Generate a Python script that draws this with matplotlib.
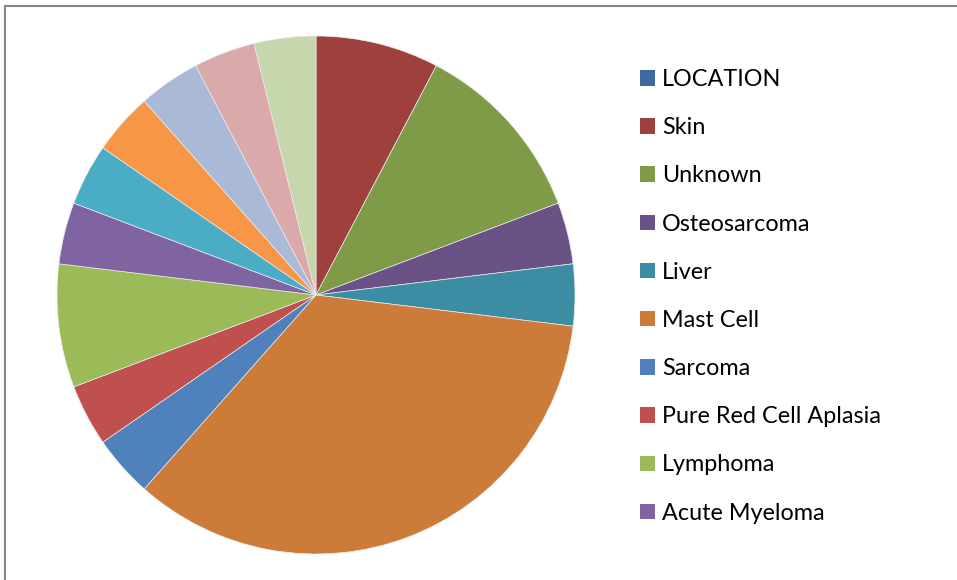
import matplotlib.pyplot as plt
from matplotlib.patches import Rectangle

# categories in series order (only the first 10 appear in the legend)
labels = ['LOCATION', 'Skin', 'Unknown', 'Osteosarcoma', 'Liver', 'Mast Cell',
          'Sarcoma', 'Pure Red Cell Aplasia', 'Lymphoma', 'Acute Myeloma',
          'Other 1', 'Other 2', 'Other 3', 'Other 4', 'Other 5']
counts = [0, 2, 3, 1, 1, 9, 1, 1, 2, 1, 1, 1, 1, 1, 1]
colors = ['#3E6A9E', '#9E413E', '#7F9B48', '#6A5186', '#3C8DA3', '#CC7B38',
          '#4F81BD', '#C0504D', '#9BBB59', '#8064A2', '#4BACC6', '#F79646',
          '#AAB9D6', '#D9AAA9', '#C7D6AD']
n_legend = 10

plt.rcParams['font.family'] = ['Lato', 'DejaVu Sans']

fig = plt.figure(figsize=(9.57, 5.8), dpi=100)
# chart border (only top and left edges fall inside the image)
fig.patches.append(Rectangle((5 / 957, -0.1), 1.1, 1 - 6 / 580 + 0.1,
                             transform=fig.transFigure, fill=False,
                             edgecolor='#868686', linewidth=1.5))

ax = fig.add_axes([57 / 957, 26 / 580, 518 / 957, 518 / 580])
wedges, _ = ax.pie(counts, colors=colors, startangle=90, counterclock=False,
                   radius=1, wedgeprops=dict(edgecolor='#EBEBEB', linewidth=0.5))
ax.set_xlim(-1, 1)
ax.set_ylim(-1, 1)
ax.set_aspect('equal')

leg = fig.legend(wedges[:n_legend], labels[:n_legend], loc='upper left',
                 bbox_to_anchor=(640 / 957, 1 - 69 / 580), frameon=False,
                 fontsize=16.8, handlelength=0.64, handleheight=0.64,
                 handletextpad=0.30, labelspacing=1.165, borderpad=0,
                 borderaxespad=0)
for h in leg.legend_handles:
    h.set_edgecolor('none')

fig.savefig('out.png', dpi=100)
